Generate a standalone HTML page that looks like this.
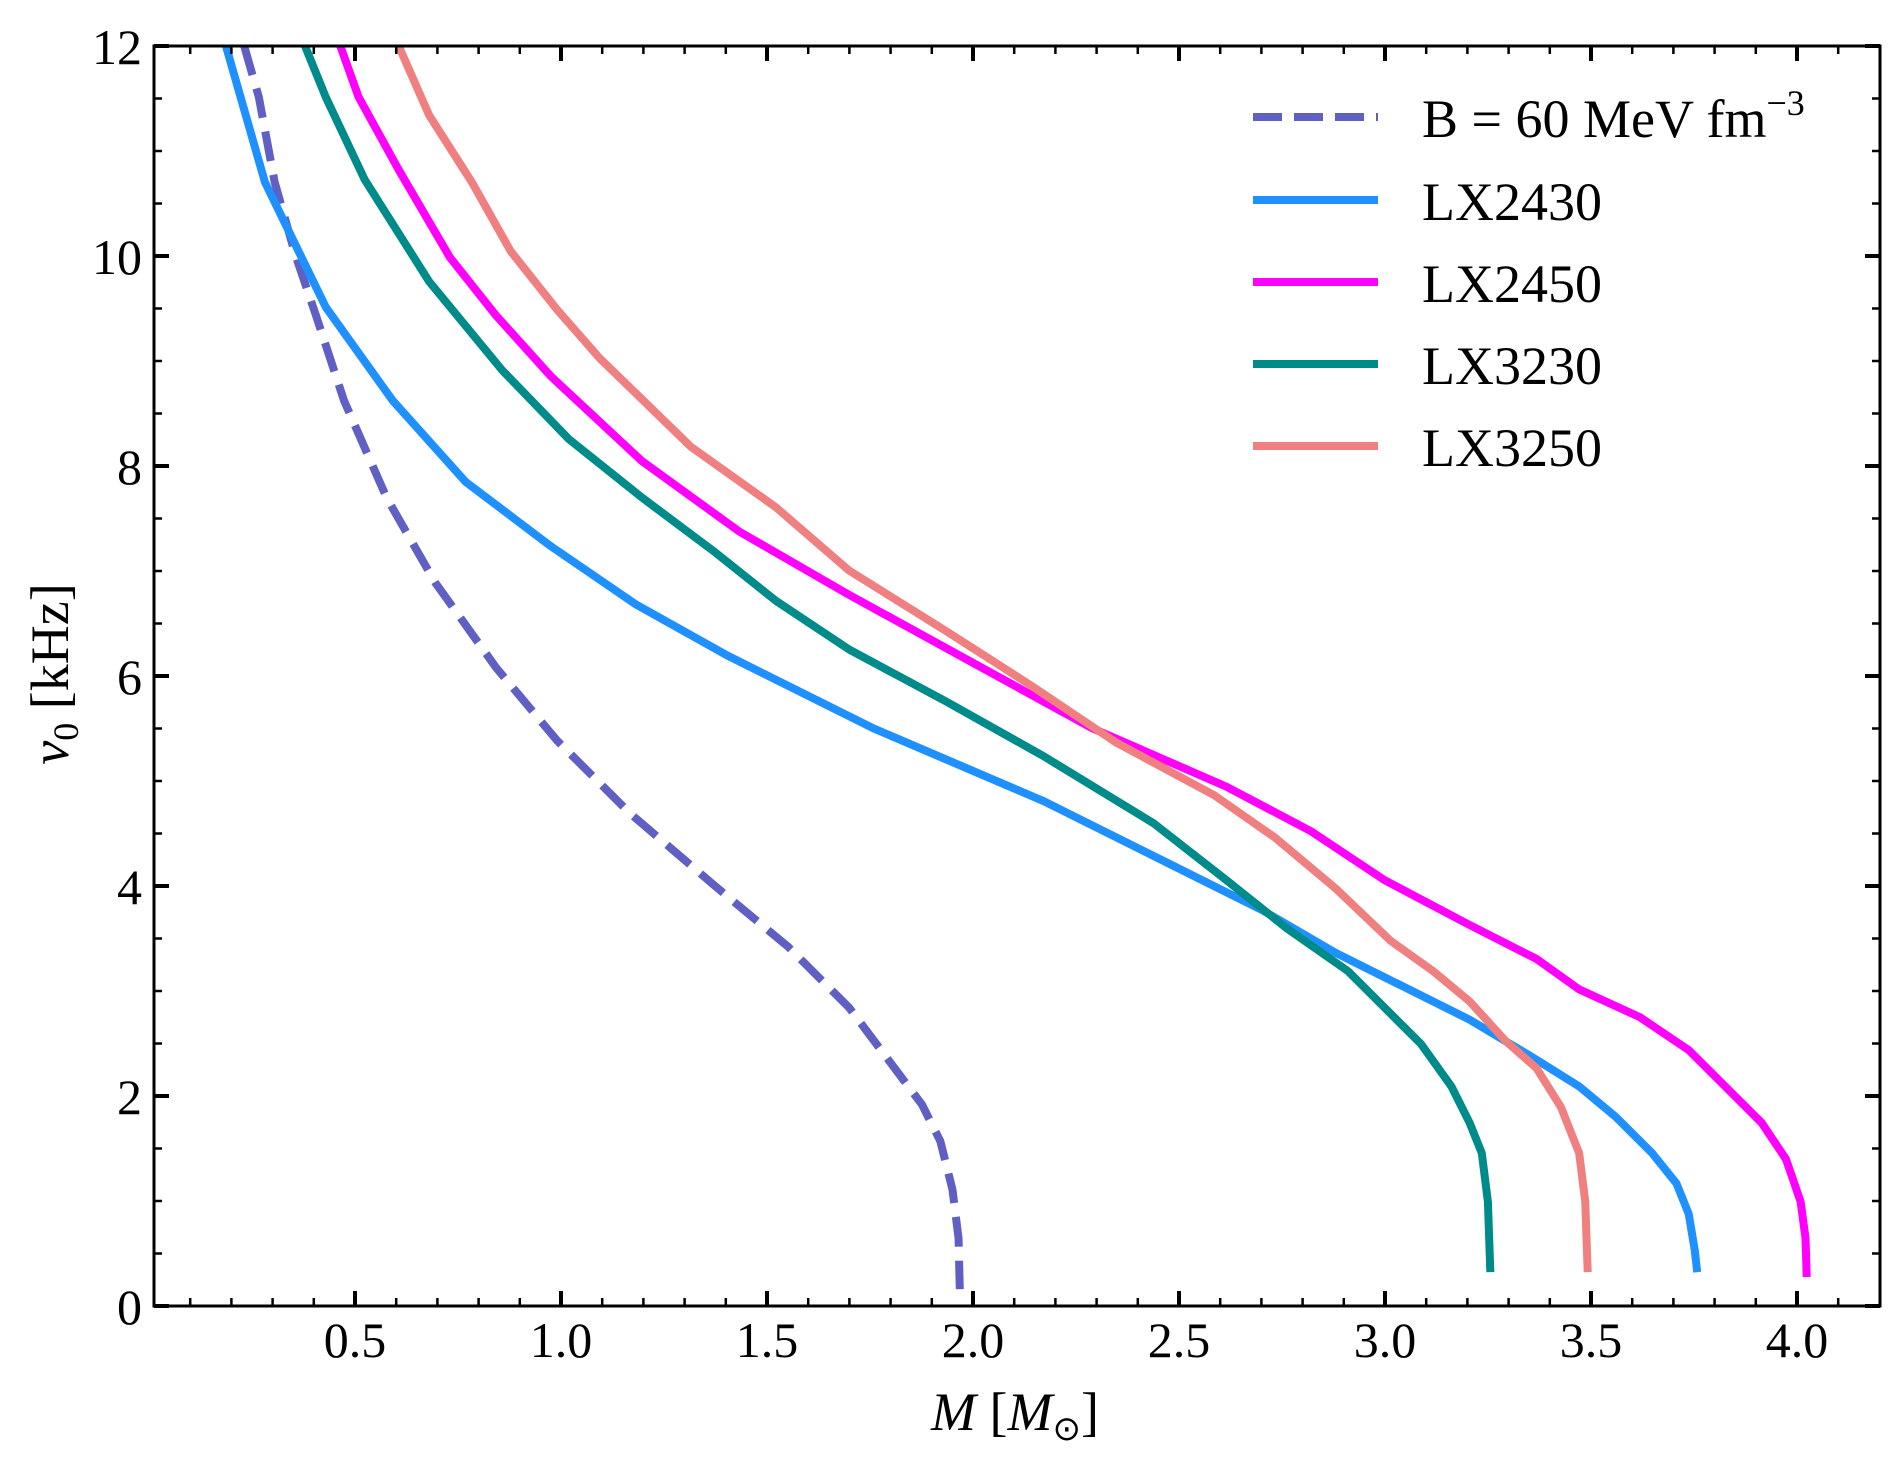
<!DOCTYPE html>
<html><head><meta charset="utf-8"><style>
html,body{margin:0;padding:0;background:#fff;}
svg{display:block;font-family:"Liberation Serif",serif;}
</style></head><body>
<svg width="1903" height="1471" viewBox="0 0 1903 1471" xmlns="http://www.w3.org/2000/svg">
<defs><clipPath id="c"><rect x="154" y="46" width="1726" height="1260"/></clipPath></defs>
<g clip-path="url(#c)" fill="none" stroke-linejoin="round">
<g transform="matrix(1.2169 0 0 1.2139 -2.8 0)">
<polyline vector-effect="non-scaling-stroke" stroke="#5f5fc4" stroke-width="8" stroke-dasharray="30 14" points="203,38 215,80 228,150 245,210 262,260 285,330 320,410 360,480 410,550 460,610 520,670 590,730 650,780 700,830 730,870 760,910 775,940 785,980 790,1020 791,1062"/>
<polyline vector-effect="non-scaling-stroke" stroke="#1e90ff" stroke-width="8" points="188,38 220,150 270,253 325,330 385,397 455,450 525,498 600,540 720,600 860,660 960,710 1040,750 1100,785 1150,810 1210,840 1260,870 1300,895 1330,920 1360,950 1380,975 1390,1000 1395,1030 1397,1048"/>
<polyline vector-effect="non-scaling-stroke" stroke="#ff00ff" stroke-width="8" points="282,38 297,80 330,140 372,212 410,260 455,310 530,380 610,438 700,490 800,545 900,600 1010,648 1080,685 1140,725 1210,762 1265,790 1300,815 1350,838 1390,865 1420,895 1450,925 1470,955 1482,990 1486,1020 1487,1052"/>
<polyline vector-effect="non-scaling-stroke" stroke="#008b8b" stroke-width="8" points="253,38 270,80 302,148 355,232 415,305 470,362 530,410 590,455 640,495 700,535 780,578 860,623 950,678 1010,725 1060,765 1110,800 1140,830 1170,860 1195,895 1210,925 1220,950 1225,990 1227,1048"/>
<polyline vector-effect="non-scaling-stroke" stroke="#f08080" stroke-width="8" points="330,38 355,95 390,150 422,207 460,255 495,295 570,368 640,418 700,470 780,520 850,565 920,612 1000,655 1050,690 1100,732 1145,775 1180,800 1210,825 1240,858 1265,880 1285,912 1300,950 1305,990 1307,1048"/>
</g></g>
<rect x="154" y="46" width="1726" height="1260" fill="none" stroke="#000" stroke-width="3"/>
<g stroke="#000">
<g stroke-width="4">
<path d="M355 1306v-15M561 1306v-15M767 1306v-15M973 1306v-15M1179 1306v-15M1385 1306v-15M1591 1306v-15M1797 1306v-15"/>
<path d="M355 46v15M561 46v15M767 46v15M973 46v15M1179 46v15M1385 46v15M1591 46v15M1797 46v15"/>
<path d="M154 1306h15M154 1096h15M154 886h15M154 676h15M154 466h15M154 256h15M154 46h15"/>
<path d="M1880 1306h-15M1880 1096h-15M1880 886h-15M1880 676h-15M1880 466h-15M1880 256h-15M1880 46h-15"/>
</g>
<g stroke-width="2.5">
<path d="M190.2 1306v-8M231.4 1306v-8M272.6 1306v-8M313.8 1306v-8M396.2 1306v-8M437.4 1306v-8M478.6 1306v-8M519.8 1306v-8M602.2 1306v-8M643.4 1306v-8M684.6 1306v-8M725.8 1306v-8M808.2 1306v-8M849.4 1306v-8M890.6 1306v-8M931.8 1306v-8M1014.2 1306v-8M1055.4 1306v-8M1096.6 1306v-8M1137.8 1306v-8M1220.2 1306v-8M1261.4 1306v-8M1302.6 1306v-8M1343.8 1306v-8M1426.2 1306v-8M1467.4 1306v-8M1508.6 1306v-8M1549.8 1306v-8M1632.2 1306v-8M1673.4 1306v-8M1714.6 1306v-8M1755.8 1306v-8M1838.2 1306v-8"/>
<path d="M190.2 46v8M231.4 46v8M272.6 46v8M313.8 46v8M396.2 46v8M437.4 46v8M478.6 46v8M519.8 46v8M602.2 46v8M643.4 46v8M684.6 46v8M725.8 46v8M808.2 46v8M849.4 46v8M890.6 46v8M931.8 46v8M1014.2 46v8M1055.4 46v8M1096.6 46v8M1137.8 46v8M1220.2 46v8M1261.4 46v8M1302.6 46v8M1343.8 46v8M1426.2 46v8M1467.4 46v8M1508.6 46v8M1549.8 46v8M1632.2 46v8M1673.4 46v8M1714.6 46v8M1755.8 46v8M1838.2 46v8"/>
<path d="M154 1253.5h8M154 1201h8M154 1148.5h8M154 1043.5h8M154 991h8M154 938.5h8M154 833.5h8M154 781h8M154 728.5h8M154 623.5h8M154 571h8M154 518.5h8M154 413.5h8M154 361h8M154 308.5h8M154 203.5h8M154 151h8M154 98.5h8"/>
<path d="M1880 1253.5h-8M1880 1201h-8M1880 1148.5h-8M1880 1043.5h-8M1880 991h-8M1880 938.5h-8M1880 833.5h-8M1880 781h-8M1880 728.5h-8M1880 623.5h-8M1880 571h-8M1880 518.5h-8M1880 413.5h-8M1880 361h-8M1880 308.5h-8M1880 203.5h-8M1880 151h-8M1880 98.5h-8"/>
</g></g>
<g font-size="50" fill="#000" text-anchor="end">
<text x="142" y="1324">0</text><text x="142" y="1114">2</text><text x="142" y="904">4</text>
<text x="142" y="694">6</text><text x="142" y="484">8</text><text x="142" y="274">10</text><text x="142" y="64">12</text>
</g>
<g font-size="50" fill="#000" text-anchor="middle">
<text x="355" y="1357">0.5</text><text x="561" y="1357">1.0</text><text x="767" y="1357">1.5</text><text x="973" y="1357">2.0</text>
<text x="1179" y="1357">2.5</text><text x="1385" y="1357">3.0</text><text x="1591" y="1357">3.5</text><text x="1797" y="1357">4.0</text>
<text x="1015" y="1430" font-size="54"><tspan font-style="italic">M</tspan> [<tspan font-style="italic">M</tspan><tspan font-size="34" dy="10">⊙</tspan><tspan dy="-10">]</tspan></text>
</g>
<text transform="translate(68,674) rotate(-90)" font-size="54" text-anchor="middle"><tspan font-style="italic">ν</tspan><tspan font-size="36" dy="10">0</tspan><tspan dy="-10"> [kHz]</tspan></text>
<g stroke-width="8">
<path d="M1253 117h125" stroke="#5f5fc4" stroke-dasharray="29 12"/>
<path d="M1253 200h125" stroke="#1e90ff"/>
<path d="M1253 282h125" stroke="#ff00ff"/>
<path d="M1253 364h125" stroke="#008b8b"/>
<path d="M1253 446h125" stroke="#f08080"/>
</g>
<g font-size="54" fill="#000">
<text x="1422" y="137">B = 60 MeV fm<tspan font-size="36" dy="-22">−3</tspan></text>
<text x="1422" y="220">LX2430</text>
<text x="1422" y="302">LX2450</text>
<text x="1422" y="384">LX3230</text>
<text x="1422" y="466">LX3250</text>
</g>
</svg>
</body></html>
